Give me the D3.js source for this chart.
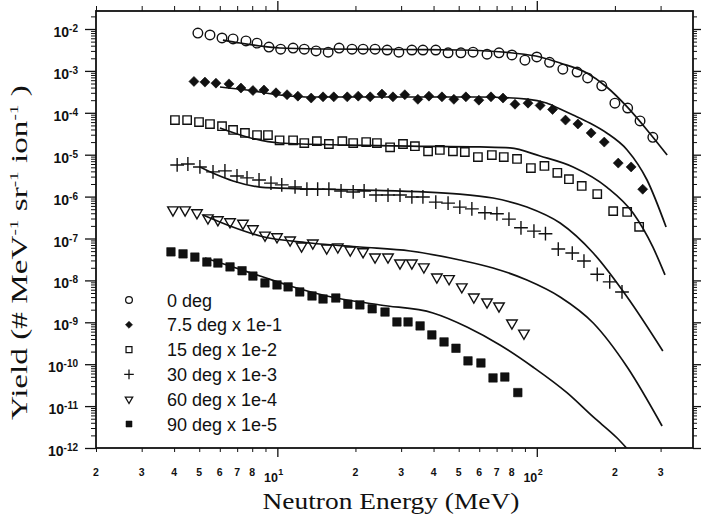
<!DOCTYPE html>
<html>
<head>
<meta charset="utf-8">
<script src="https://cdn.jsdelivr.net/npm/d3@7"></script>
<style>
  body { margin: 0; background: #fff; }
  svg { display: block; }
</style>
</head>
<body>
<svg id="chart" width="702" height="526"></svg>
<script>
// ---- Measured yields, Yield (# MeV^-1 sr^-1 ion^-1), scaled per angle ----
const seriesLabels = ["0 deg", "7.5 deg x 1e-1", "15 deg x 1e-2", "30 deg x 1e-3", "60 deg x 1e-4", "90 deg x 1e-5"];

const energy0 = [4.94,5.50,6.12,6.75,7.57,8.35,9.28,10.3,11.5,12.7,14.1,15.7,17.3,19.4,21.4,23.8,26.5,29.4,33.0,36.4,40.8,45.5,51.0,56.8,64.3,71.5,80.2,90.0,100,112,126,143,157,178,200,224,250,280];
const yield0  = [8.0e-3,7.2e-3,6.1e-3,5.8e-3,5.2e-3,4.6e-3,3.7e-3,3.3e-3,3.5e-3,3.3e-3,3.0e-3,2.8e-3,3.5e-3,3.3e-3,3.3e-3,3.3e-3,3.15e-3,2.8e-3,3.15e-3,3.15e-3,3.15e-3,2.7e-3,2.7e-3,2.8e-3,2.5e-3,2.7e-3,2.4e-3,1.8e-3,2.15e-3,1.6e-3,1.1e-3,9.4e-4,6.8e-4,4.4e-4,1.7e-4,1.3e-4,6.4e-5,2.6e-5];

const energy7 = [4.77,5.26,5.80,6.51,7.24,8.05,8.88,9.88,10.9,12.0,13.5,15.0,16.5,18.6,20.5,22.8,25.3,27.9,31.0,34.8,38.4,43.1,47.9,53.3,59.8,66.6,74.1,82.4,92.5,103,115,129,144,162,182,206,231,256];
const yield7  = [5.6e-4,5.4e-4,5.1e-4,4.9e-4,3.9e-4,3.4e-4,3.5e-4,3.0e-4,2.7e-4,2.5e-4,2.25e-4,2.4e-4,2.4e-4,2.4e-4,2.5e-4,2.4e-4,2.8e-4,2.4e-4,2.7e-4,2.1e-4,2.5e-4,2.4e-4,2.1e-4,2.4e-4,2.0e-4,2.4e-4,2.25e-4,1.6e-4,1.7e-4,1.5e-4,1.2e-4,6.7e-5,5.4e-5,3.3e-5,2.0e-5,6.3e-6,5.1e-6,1.5e-6];

const energy15 = [4.03,4.49,4.99,5.50,6.12,6.75,7.50,8.35,9.20,10.2,11.5,12.7,14.2,15.8,17.8,19.6,22.0,24.2,27.2,30.5,33.9,38.1,42.3,47.5,52.8,59.3,67.1,74.6,83.9,94.9,107,120,133,149,171,197,223,248];
const yield15  = [6.7e-5,6.7e-5,6.0e-5,5.4e-5,4.8e-5,3.9e-5,3.3e-5,2.95e-5,2.95e-5,2.2e-5,2.2e-5,1.9e-5,2.1e-5,1.8e-5,2.1e-5,1.9e-5,2.0e-5,1.9e-5,1.5e-5,1.8e-5,1.6e-5,1.2e-5,1.3e-5,1.2e-5,1.16e-5,8.8e-6,9.8e-6,8.8e-6,7.9e-6,4.8e-6,5.4e-6,3.7e-6,2.6e-6,1.8e-6,1.15e-6,4.5e-7,4.3e-7,1.9e-7];

const energy30 = [4.11,4.52,5.03,5.65,6.28,6.99,7.64,8.50,9.45,10.4,11.7,13.0,14.3,15.8,17.6,19.6,21.6,24.0,26.7,29.7,33.0,36.4,40.8,45.5,50.5,56.2,63.1,70.2,78.1,86.9,97.5,108,121,137,152,171,191,213];
const yield30  = [5.7e-6,6.0e-6,5.1e-6,3.9e-6,4.1e-6,3.1e-6,2.8e-6,2.5e-6,2.1e-6,1.9e-6,1.7e-6,1.5e-6,1.5e-6,1.5e-6,1.36e-6,1.29e-6,1.36e-6,1.09e-6,1.09e-6,1.09e-6,9.8e-7,9.8e-7,7.4e-7,7.0e-7,5.6e-7,5.1e-7,4.1e-7,3.9e-7,2.9e-7,1.8e-7,1.5e-7,1.3e-7,5.6e-8,4.5e-8,2.9e-8,1.4e-8,9.2e-9,5.3e-9];

const energy60 = [3.96,4.41,4.90,5.40,5.90,6.57,7.37,8.05,8.96,9.97,11.2,12.4,13.7,15.5,17.1,19.1,21.4,23.8,26.7,29.7,33.0,36.7,41.2,45.9,51.4,57.2,64.3,71.5,80.2,89.2];
const yield60  = [4.8e-7,4.8e-7,4.1e-7,3.1e-7,2.8e-7,2.5e-7,2.3e-7,1.7e-7,1.2e-7,1.1e-7,9.2e-8,6.6e-8,7.8e-8,5.9e-8,6.3e-8,5.3e-8,4.8e-8,3.6e-8,3.6e-8,2.6e-8,2.6e-8,2.1e-8,1.2e-8,1.1e-8,7.0e-9,4.0e-9,3.05e-9,2.45e-9,9.6e-10,5.5e-10];

const energy90 = [3.89,4.33,4.81,5.35,5.90,6.57,7.31,8.05,8.96,9.97,11.0,12.2,13.6,15.0,16.8,18.7,20.8,23.2,26.0,28.9,31.9,35.5,39.4,43.9,48.8,54.3,60.9,67.8,75.3,84.5];
const yield90  = [4.8e-8,4.3e-8,3.6e-8,2.75e-8,2.6e-8,2.1e-8,1.7e-8,1.27e-8,8.7e-9,7.8e-9,7.0e-9,5.3e-9,4.25e-9,3.6e-9,3.8e-9,2.7e-9,2.6e-9,2.1e-9,1.76e-9,1.02e-9,1.02e-9,8.2e-10,5.0e-10,3.4e-10,2.4e-10,1.2e-10,1.07e-10,4.7e-11,4.95e-11,2.1e-11];

// ---- Calculated spectra (solid lines) ----
const calcE0 = [6.17,7.18,8.58,10.2,14.6,29.7,50.5,80.9,103,123,156,186,223,266,318];
const calcY0 = [5.46e-3,4.63e-3,3.93e-3,3.52e-3,3.33e-3,3.24e-3,3.15e-3,2.67e-3,2.15e-3,1.54e-3,8.9e-4,4.13e-4,1.38e-4,3.9e-5,9.8e-6];

const calcE7 = [6.01,7.64,10.2,13.7,29.7,60.4,91.6,109,123,138,160,186,223,266,315];
const calcY7 = [4.13e-4,3.5e-4,2.66e-4,2.38e-4,2.38e-4,2.38e-4,2.13e-4,1.71e-4,1.23e-4,8.86e-5,5.71e-5,3.3e-5,1.3e-5,2.49e-6,1.88e-7];

const calcE15 = [6.01,7.64,10.2,18.6,32.5,60.4,78.8,103,138,186,235,280,312];
const calcY15 = [4.34e-5,2.65e-5,1.9e-5,1.7e-5,1.61e-5,1.53e-5,1.45e-5,9.3e-6,5.1e-6,1.69e-6,4.06e-7,6.3e-8,1.35e-8];

const calcE30 = [5.03,5.75,6.75,8.58,10.2,20.8,50.5,67.8,91.6,123,165,223,306];
const calcY30 = [5.09e-6,3.46e-6,2.36e-6,1.69e-6,1.6e-6,1.44e-6,1.15e-6,9.26e-7,5.65e-7,2.34e-7,4.51e-8,4.02e-9,2.07e-10];

const calcE60 = [5.17,6.57,8.58,13.4,20.8,32.5,50.5,67.8,91.6,123,165,223,304];
const calcY60 = [3.64e-7,1.99e-7,1.15e-7,7.81e-8,6.27e-8,5.04e-8,3.07e-8,1.98e-8,1.02e-8,4.02e-9,9.62e-10,8.57e-11,3.35e-12];

const calcE90 = [5.26,6.57,8.58,11.2,15.5,24.9,39.8,53.8,72.1,96.6,131,165,204,229];
const calcY90 = [3.43e-8,2.21e-8,1.27e-8,7.35e-9,4.25e-9,2.59e-9,1.67e-9,7.73e-10,2.87e-10,8.57e-11,2.06e-11,5.5e-12,1.73e-12,8.0e-13];

// ---- Axis ticks ----
const yMajorExponents = [-2,-3,-4,-5,-6,-7,-8,-9,-10,-11,-12];
const xMajorTicks = [10, 100];
const xMajorExponents = ["1", "2"];
const xMinorTicks = [2,3,4,5,6,7,8,9,20,30,40,50,60,70,80,90,200,300];
const xMinorLabels = [2,3,4,5,6,7,8,20,30,40,50,60,70,80,200,300];

// ---------------------------------------------------------------------
const ink = "#111";
const svg = d3.select("#chart");
const plot = { left: 96, right: 693, top: 11, bottom: 448 };

const x = d3.scaleLog().domain([2, 400]).range([plot.left, plot.right]);
const y = d3.scaleLog().domain([1e-12, Math.pow(10, -1.5704)]).range([plot.bottom, plot.top]);

const yMajor = yMajorExponents.map(k => Math.pow(10, k));
const yMinor = [];
for (let k = -12; k <= -2; k++) {
  for (let m = 2; m <= 9; m++) {
    const v = m * Math.pow(10, k);
    if (v < y.domain()[1]) yMinor.push(v);
  }
}

svg.append("rect").attr("width", 702).attr("height", 526).attr("fill", "#fff");

svg.append("defs").append("clipPath").attr("id", "plotClip")
  .append("rect")
  .attr("x", plot.left).attr("y", plot.top)
  .attr("width", plot.right - plot.left).attr("height", plot.bottom - plot.top);

// tick marks on all four sides, pointing outward
function tickRow(axis, transform, width) {
  const g = svg.append("g").attr("transform", transform).call(axis);
  g.select(".domain").remove();
  g.selectAll("text").remove();
  g.selectAll("line").attr("stroke", ink).attr("stroke-width", width);
}
tickRow(d3.axisLeft(y).tickValues(yMajor).tickSizeOuter(0).tickSize(11), `translate(${plot.left},0)`, 1.3);
tickRow(d3.axisLeft(y).tickValues(yMinor).tickSizeOuter(0).tickSize(5), `translate(${plot.left},0)`, 1);
tickRow(d3.axisRight(y).tickValues(yMajor).tickSizeOuter(0).tickSize(8), `translate(${plot.right},0)`, 1.3);
tickRow(d3.axisRight(y).tickValues(yMinor).tickSizeOuter(0).tickSize(4), `translate(${plot.right},0)`, 1);
tickRow(d3.axisBottom(x).tickValues(xMajorTicks).tickSizeOuter(0).tickSize(9), `translate(0,${plot.bottom})`, 1.3);
tickRow(d3.axisBottom(x).tickValues(xMinorTicks).tickSizeOuter(0).tickSize(4), `translate(0,${plot.bottom})`, 1);
tickRow(d3.axisTop(x).tickValues(xMajorTicks).tickSizeOuter(0).tickSize(10), `translate(0,${plot.top})`, 1.3);
tickRow(d3.axisTop(x).tickValues(xMinorTicks).tickSizeOuter(0).tickSize(5), `translate(0,${plot.top})`, 1);

// frame
svg.append("rect")
  .attr("x", plot.left).attr("y", plot.top)
  .attr("width", plot.right - plot.left).attr("height", plot.bottom - plot.top)
  .attr("fill", "none").attr("stroke", ink).attr("stroke-width", 1.8);

// y tick labels: 10^k
const yLab = svg.append("g").attr("font-family", "'Liberation Sans', Arial, sans-serif")
  .attr("font-weight", "bold").attr("fill", ink);
yMajor.forEach((v, i) => {
  const t = yLab.append("text").attr("x", plot.left - 18).attr("y", y(v) + 8).attr("text-anchor", "end");
  t.append("tspan").attr("font-size", 14).text("10");
  t.append("tspan").attr("font-size", 10).attr("dy", -5).text(String(yMajorExponents[i]));
});

// x tick labels
const xLab = svg.append("g").attr("font-family", "'Liberation Sans', Arial, sans-serif")
  .attr("font-weight", "bold").attr("fill", ink);
xMinorLabels.forEach(v => {
  xLab.append("text").attr("x", x(v)).attr("y", plot.bottom + 28)
    .attr("text-anchor", "middle").attr("font-size", 10.5)
    .text(String(v).charAt(0));
});
xMajorTicks.forEach((v, i) => {
  xLab.append("text").attr("x", x(v) + 0.5).attr("y", plot.bottom + 34)
    .attr("text-anchor", "end").attr("font-size", 12.5).text("10");
  xLab.append("text").attr("x", x(v) + 1).attr("y", plot.bottom + 27)
    .attr("text-anchor", "start").attr("font-size", 9).text(xMajorExponents[i]);
});

// axis titles (serif, drawn wide)
const xTitle = svg.append("text")
  .attr("font-family", "'Liberation Serif', 'Times New Roman', serif")
  .attr("font-size", 22.5).attr("fill", ink).attr("text-anchor", "middle")
  .text("Neutron Energy (MeV)");
const wX = xTitle.node().getBBox().width || 257;
xTitle.attr("transform", `translate(391,509) scale(${257 / wX},1)`);

const yTitle = svg.append("text")
  .attr("font-family", "'Liberation Serif', 'Times New Roman', serif")
  .attr("font-size", 22.5).attr("fill", ink).attr("text-anchor", "start");
const yTitleParts = [["Yield (# MeV", 0], ["-1", 1], [" sr", 0], ["-1", 1], [" ion", 0], ["-1", 1], [" )", 0]];
let prevSup = 0;
yTitleParts.forEach(([s, sup]) => {
  yTitle.append("tspan")
    .attr("font-size", sup ? 13 : 22.5)
    .attr("dy", sup ? -9 : (prevSup ? 9 : 0))
    .text(s);
  prevSup = sup;
});
// run the title from y = 420 (start) up to y = 85 (end)
const titleStart = 420, titleEnd = 85;
const wY = yTitle.node().getComputedTextLength() || (titleStart - titleEnd);
yTitle.attr("transform", `translate(27,${titleStart}) rotate(-90) scale(${(titleStart - titleEnd) / wY},1)`);

// ---- markers ----
const markerStyles = [
  { type: d3.symbolCircle,   size: 72, fill: "none", rotate: 0,   sw: 1.4 },
  { type: d3.symbolSquare,   size: 50, fill: ink,    rotate: 45,  sw: 0.6 },
  { type: d3.symbolSquare,   size: 70, fill: "none", rotate: 0,   sw: 1.4 },
  { type: d3.symbolPlus,     size: 64, fill: "none", rotate: 0,   sw: 1.4 },
  { type: d3.symbolTriangle, size: 48, fill: "none", rotate: 180, sw: 1.4 },
  { type: d3.symbolSquare,   size: 72, fill: ink,    rotate: 0,   sw: 0.6 }
];

const measured = [
  [energy0, yield0], [energy7, yield7], [energy15, yield15],
  [energy30, yield30], [energy60, yield60], [energy90, yield90]
];
const calculated = [
  [calcE0, calcY0], [calcE7, calcY7], [calcE15, calcY15],
  [calcE30, calcY30], [calcE60, calcY60], [calcE90, calcY90]
];

const line = d3.line().x(d => x(d[0])).y(d => y(d[1])).curve(d3.curveMonotoneX);
const curves = svg.append("g").attr("clip-path", "url(#plotClip)");
calculated.forEach(([es, ys]) => {
  curves.append("path")
    .datum(es.map((e, i) => [e, ys[i]]))
    .attr("d", line)
    .attr("fill", "none").attr("stroke", ink).attr("stroke-width", 1.7);
});

const points = svg.append("g");
measured.forEach(([es, ys], s) => {
  const st = markerStyles[s];
  const sym = d3.symbol().type(st.type).size(st.size);
  points.append("g").selectAll("path")
    .data(es.map((e, i) => [e, ys[i]]))
    .join("path")
    .attr("d", sym)
    .attr("transform", d => `translate(${x(d[0])},${y(d[1])}) rotate(${st.rotate})`)
    .attr("fill", st.fill === "none" ? "#fff" : st.fill)
    .attr("fill-opacity", st.fill === "none" ? 0 : 1)
    .attr("stroke", ink).attr("stroke-width", st.sw);
});

// ---- legend ----
const legend = svg.append("g");
const rowY = d3.scalePoint().domain(seriesLabels).range([300, 424]);
seriesLabels.forEach((lab, s) => {
  const st = markerStyles[s];
  const sym = d3.symbol().type(st.type).size(st.size * 0.5);
  legend.append("path")
    .attr("d", sym)
    .attr("transform", `translate(129,${rowY(lab)}) rotate(${st.rotate})`)
    .attr("fill", st.fill === "none" ? "none" : st.fill)
    .attr("stroke", ink).attr("stroke-width", st.sw * 0.9);
  legend.append("text")
    .attr("x", 167).attr("y", rowY(lab) + 6.5)
    .attr("font-family", "'Liberation Sans', Arial, sans-serif")
    .attr("font-size", 18).attr("fill", ink)
    .text(lab);
});
</script>
</body>
</html>
